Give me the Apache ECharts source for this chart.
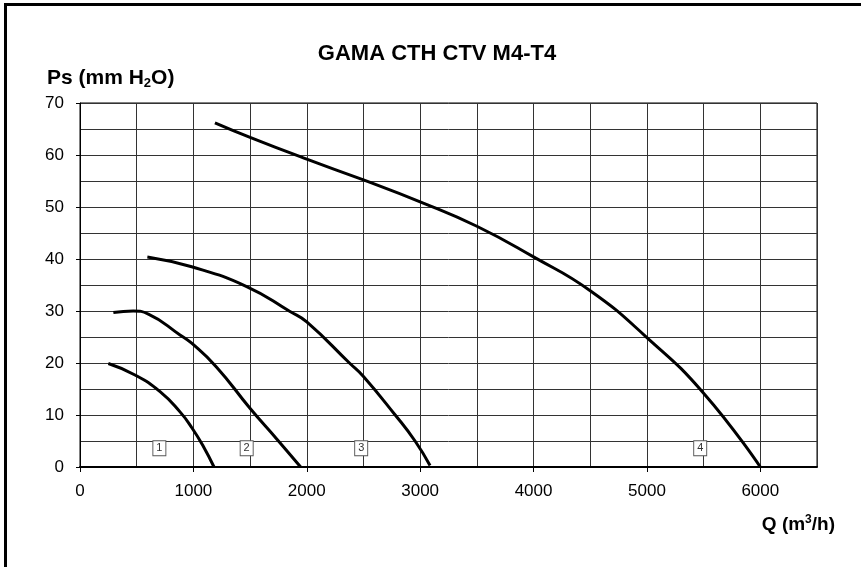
<!DOCTYPE html>
<html>
<head>
<meta charset="utf-8">
<title>GAMA CTH CTV M4-T4</title>
<script src="https://cdn.jsdelivr.net/npm/echarts@6/dist/echarts.min.js"></script>
<style>
  html, body { margin: 0; padding: 0; background: #fff; }
  #chart { width: 861px; height: 567px; }
</style>
</head>
<body>
<div id="chart"></div>
<script>
// fan curves: flow Q (m3/h) vs static pressure Ps (mm H2O)
const curve1Q = [250, 485, 706, 882, 985, 1087, 1182]
const curve1P = [19.9, 17.7, 14.5, 10.6, 7.6, 4.0, 0]

const curve2Q = [294, 470, 603, 882, 985, 1205, 1499, 1735, 1946]
const curve2P = [29.7, 30.0, 29.4, 25.4, 23.8, 19.2, 11.3, 5.4, 0]

const curve3Q = [594, 985, 1470, 1852, 2000, 2381, 2500, 2780, 2955, 3087]
const curve3P = [40.4, 38.5, 34.7, 29.9, 27.9, 19.9, 17.4, 10.0, 5.0, 0.3]

const curve4Q = [1190, 1500, 2000, 2500, 3000, 3500, 4000, 4500, 5000, 5500, 6000]
const curve4P = [66.2, 63.4, 59.2, 55.2, 51.0, 46.3, 40.4, 33.9, 24.9, 14.2, 0]

// numbered tags under each curve
const tagNames = ['1', '2', '3', '4']
const tagQ = [700, 1470, 2480, 5470]
const tagP = [3.6, 3.6, 3.6, 3.6]

const xTickLabels = [0, 1000, 2000, 3000, 4000, 5000, 6000]
const yTickLabels = [0, 10, 20, 30, 40, 50, 60, 70]

const FONT = '"Liberation Sans", Arial, sans-serif'

function pairs(qs, ps) {
  return qs.map((q, i) => [q, ps[i]])
}

function curveSeries(qs, ps) {
  return {
    type: 'line',
    data: pairs(qs, ps),
    smooth: 0.5,
    showSymbol: false,
    silent: true,
    lineStyle: { color: '#000', width: 3 },
    z: 3,
  }
}

const chart = echarts.init(document.getElementById('chart'), null, { renderer: 'canvas' })

// main axes carry the grid lines (every 500 / every 5) and the labels,
// the second pair only draws the outside ticks at the labelled values
const xBase = { type: 'value', min: 0, max: 6500, gridIndex: 0 }
const yBase = { type: 'value', min: 0, max: 70, gridIndex: 0 }

const option = {
  animation: false,
  backgroundColor: '#fff',
  textStyle: { fontFamily: FONT },
  grid: {
    left: 80,
    top: 103,
    right: 44,
    bottom: 100,
    show: true,
    borderColor: '#000',
    borderWidth: 1,
  },
  xAxis: [
    {
      ...xBase,
      interval: 500,
      axisLine: { show: true, onZero: false, lineStyle: { color: '#000', width: 2 } },
      axisTick: { show: false },
      axisLabel: {
        customValues: xTickLabels,
        formatter: v => String(v),
        color: '#000',
        fontSize: 17,
        fontFamily: FONT,
        margin: 16,
      },
      splitLine: { show: true, lineStyle: { color: '#333', width: 1 } },
    },
    {
      ...xBase,
      position: 'bottom',
      interval: 1000,
      axisLine: { show: false, onZero: false },
      axisTick: { show: true, customValues: xTickLabels, length: 5, lineStyle: { color: '#000' } },
      axisLabel: { show: false },
      splitLine: { show: false },
    },
  ],
  yAxis: [
    {
      ...yBase,
      interval: 5,
      axisLine: { show: true, onZero: false, lineStyle: { color: '#000', width: 1 } },
      axisTick: { show: false },
      axisLabel: {
        customValues: yTickLabels,
        formatter: v => String(v),
        color: '#000',
        fontSize: 17,
        fontFamily: FONT,
        margin: 16,
      },
      splitLine: { show: true, lineStyle: { color: '#333', width: 1 } },
    },
    {
      ...yBase,
      position: 'left',
      interval: 10,
      axisLine: { show: false, onZero: false },
      axisTick: { show: true, customValues: yTickLabels, length: 4, lineStyle: { color: '#000' } },
      axisLabel: { show: false },
      splitLine: { show: false },
    },
  ],
  series: [
    curveSeries(curve1Q, curve1P),
    curveSeries(curve2Q, curve2P),
    curveSeries(curve3Q, curve3P),
    curveSeries(curve4Q, curve4P),
    {
      type: 'scatter',
      symbol: 'rect',
      symbolSize: [13, 15],
      silent: true,
      z: 4,
      itemStyle: { color: '#fff', borderColor: '#555', borderWidth: 1, opacity: 1 },
      label: {
        show: true,
        position: 'inside',
        formatter: p => p.data[2],
        color: '#333',
        fontSize: 11,
        fontFamily: FONT,
      },
      data: tagQ.map((q, i) => [q, tagP[i], tagNames[i]]),
    },
  ],
  graphic: [
    {
      type: 'rect',
      silent: true,
      shape: { x: 5.5, y: 4.5, width: 1000, height: 1000 },
      style: { fill: 'none', stroke: '#000', lineWidth: 3 },
    },
    {
      type: 'text',
      x: 437,
      y: 54,
      style: {
        text: 'GAMA CTH CTV M4-T4',
        font: 'bold 22px ' + FONT,
        fill: '#000',
        align: 'center',
        verticalAlign: 'middle',
      },
    },
    {
      type: 'text',
      x: 47,
      y: 66,
      style: {
        text: '{m|Ps (mm H}{s|2}{m|O)}',
        fill: '#000',
        align: 'left',
        verticalAlign: 'top',
        rich: {
          m: { fontSize: 21, fontWeight: 'bold', fontFamily: FONT, lineHeight: 24 },
          s: { fontSize: 13, fontWeight: 'bold', fontFamily: FONT, verticalAlign: 'bottom', lineHeight: 24 },
        },
      },
    },
    {
      type: 'text',
      x: 835,
      y: 514,
      style: {
        text: '{m|Q (m}{s|3}{m|/h)}',
        fill: '#000',
        align: 'right',
        verticalAlign: 'top',
        rich: {
          m: { fontSize: 19, fontWeight: 'bold', fontFamily: FONT, lineHeight: 22 },
          s: { fontSize: 12, fontWeight: 'bold', fontFamily: FONT, verticalAlign: 'top', lineHeight: 22 },
        },
      },
    },
  ],
}

chart.setOption(option)
window.addEventListener('resize', () => chart.resize())
</script>
</body>
</html>
